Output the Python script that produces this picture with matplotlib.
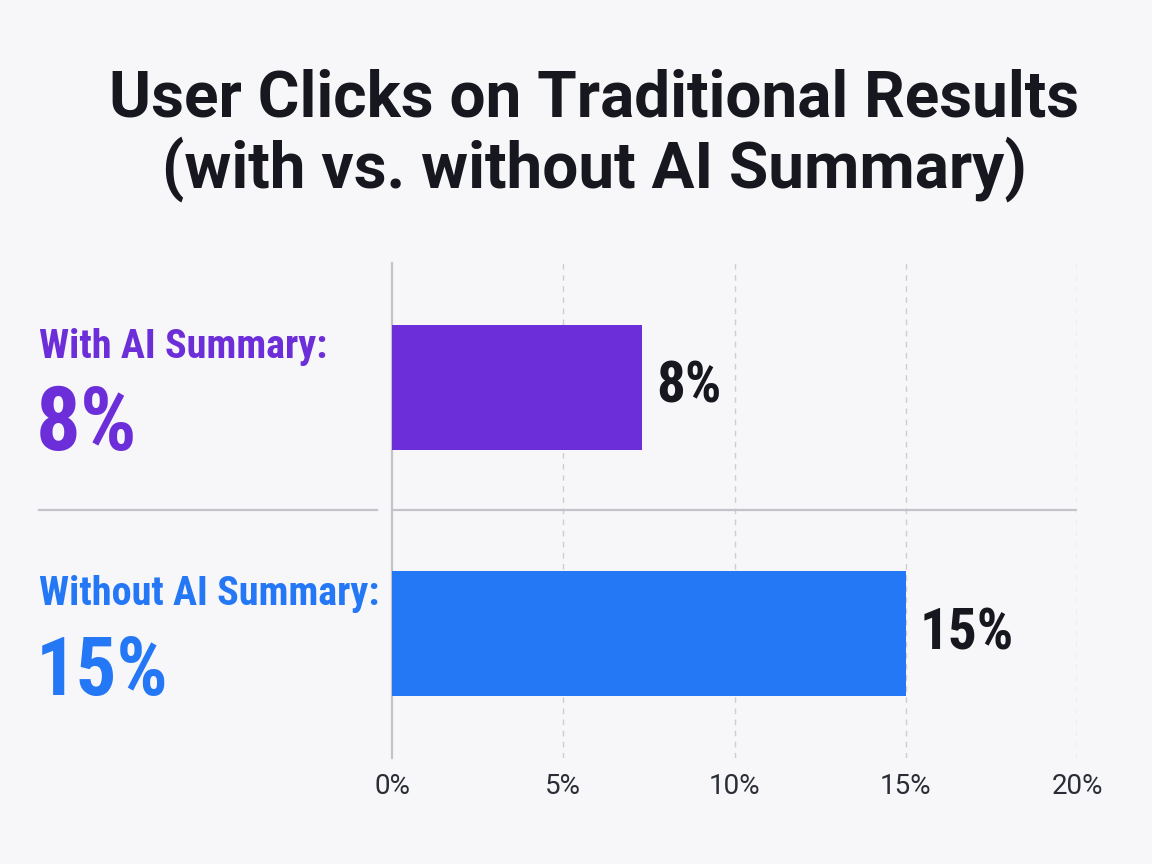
import matplotlib
matplotlib.use("Agg")
import matplotlib.pyplot as plt
from matplotlib.transforms import blended_transform_factory

# data
categories = ["With AI Summary:", "Without AI Summary:"]
values = [7.3, 15]            # bar lengths as drawn (%)
value_labels = ["8%", "15%"]  # labels printed on the chart
colors = ["#6C2ED9", "#2477F5"]
ticks = [0, 5, 10, 15, 20]
tick_labels = ["0%", "5%", "10%", "15%", "20%"]
title_lines = ["User Clicks on Traditional Results", "(with vs. without AI Summary)"]

COND = ["Roboto Condensed", "DejaVu Sans"]
REG = ["Roboto", "DejaVu Sans"]
BG = "#F7F7F9"
DARK = "#17171F"
GREY = "#C3C3CA"

fig = plt.figure(figsize=(11.52, 8.64), dpi=100, facecolor=BG)
ax = fig.add_axes([0.3403, 0.1227, 0.5946, 0.5729], facecolor="none")

y = list(range(len(categories)))
ax.barh(y, values, height=0.508, color=colors, zorder=3)
ax.set_ylim(1.506, -0.506)
ax.set_xlim(0, 20)

# value labels right of the bars
for yi, v, lab in zip(y, values, value_labels):
    ax.annotate(lab, (v, yi), xytext=(10, 0), textcoords="offset points",
                va="center", ha="left", fontsize=41, fontweight="bold",
                color=DARK, family=COND)

# axis styling
for s in ["top", "right", "bottom"]:
    ax.spines[s].set_visible(False)
ax.spines["left"].set_color(GREY)
ax.spines["left"].set_linewidth(1.6)
ax.set_yticks([])
ax.set_xticks(ticks)
ax.set_xticklabels(tick_labels, fontsize=20, color="#2A2D35", family=REG)
ax.tick_params(axis="x", length=0, pad=11)
for t in ticks[1:]:
    ax.axvline(t, color="#CDCDD3", lw=1, ls=(0, (4, 4)), zorder=1)

# separator between the two groups
ax.axhline(0.5, color=GREY, lw=1.6, zorder=2)
tr = blended_transform_factory(ax.transAxes, ax.transData)
ax.plot([-0.515, -0.022], [0.5, 0.5], transform=tr, color=GREY, lw=1.6,
        clip_on=False)

# big labels on the left
label_base = [0.5856, 0.2998]
big_base = [0.4792, 0.1956]
big_size = [64, 58]
for cat, lab, c, yb, yv, fs in zip(categories, value_labels, colors,
                                   label_base, big_base, big_size):
    fig.text(0.034, yb, cat, ha="left", va="baseline", fontsize=29,
             fontweight="bold", color=c, family=COND)
    fig.text(0.031, yv, lab, ha="left", va="baseline", fontsize=fs,
             fontweight="bold", color=c, family=COND)

# title
for line, yb in zip(title_lines, [0.8646, 0.7824]):
    fig.text(0.516, yb, line, ha="center", va="baseline", fontsize=46,
             fontweight="bold", color=DARK, family=REG)

fig.savefig("out.png", dpi=100, facecolor=BG)
